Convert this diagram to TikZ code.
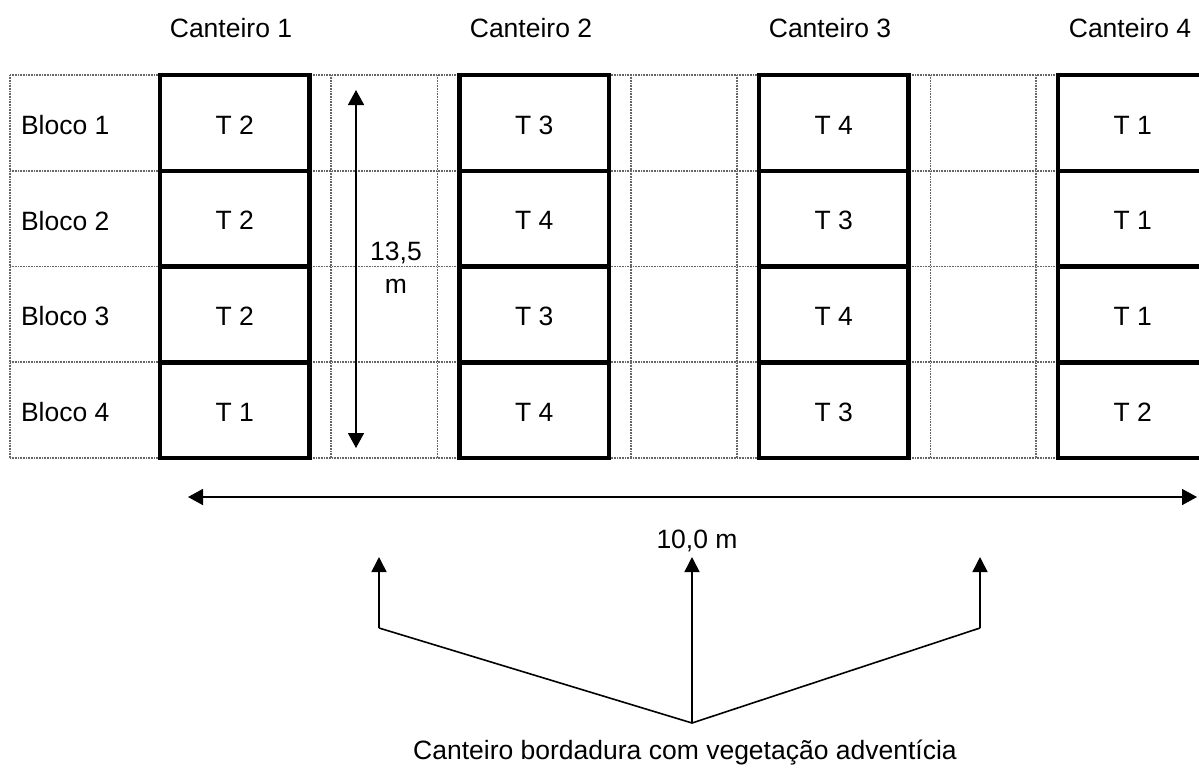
\documentclass[tikz,border=0pt]{standalone}
\usepackage{fontspec}
\setmainfont{Liberation Sans}
\usetikzlibrary{arrows.meta}
\begin{document}
\begin{tikzpicture}[x=1pt,y=-1pt,
  every node/.style={font=\fontsize{26.5}{32}\selectfont, inner sep=0pt, outer sep=0pt},
  plot/.style={draw=black, line width=4.5pt, minimum width=149.5pt, minimum height=95.75pt},
  guide/.style={draw=black!60, line width=1.6pt, dash pattern=on 1pt off 0.6pt},
  dim/.style={draw=black, line width=1.6pt, {Triangle[width=16pt,length=15pt]}-{Triangle[width=16pt,length=15pt]}},
  pointer/.style={draw=black, line width=1.6pt, -{Triangle[width=15pt,length=15pt]}},
  lead/.style={draw=black, line width=1.6pt, line join=miter},
]
\useasboundingbox (0,0) rectangle (1199,769);
\clip (0,0) rectangle (1199,769);

% thin guide lines: block column and the border strips between plots
\foreach \y in {75,170.75,266.5,362.25,458} {
  \draw[guide] (10,\y) -- (160,\y);
  \draw[guide] (309.5,\y) -- (459.5,\y);
  \draw[guide] (609,\y) -- (759,\y);
  \draw[guide] (908.5,\y) -- (1058,\y);
}
\foreach \x in {10,331,437.5,631,737,930.5,1036}
  \draw[guide] (\x,75) -- (\x,458);

% column headings
\node[anchor=base] (h1) at (231,37) {Canteiro 1};
\node[anchor=base] (h2) at (531,37) {Canteiro 2};
\node[anchor=base] (h3) at (830,37) {Canteiro 3};
\node[anchor=base] (h4) at (1130,37) {Canteiro 4};

% block labels
\foreach \r/\y in {1/124.9,2/220.6,3/316.4,4/412.1}
  \node[anchor=west] (b\r) at (21,\y) {Bloco \r};

% treatment plots
\foreach \c/\x/\la/\lb/\lc/\ld in {
    1/234.75/T 2/T 2/T 2/T 1,
    2/534.25/T 3/T 4/T 3/T 4,
    3/833.75/T 4/T 3/T 4/T 3,
    4/1132.75/T 1/T 1/T 1/T 2} {
  \node[plot] (p\c1) at (\x,122.875) {};
  \node[plot] (p\c2) at (\x,218.625) {};
  \node[plot] (p\c3) at (\x,314.375) {};
  \node[plot] (p\c4) at (\x,410.125) {};
  \node (t\c1) at (\x,124.9) {\la};
  \node (t\c2) at (\x,220.6) {\lb};
  \node (t\c3) at (\x,316.4) {\lc};
  \node (t\c4) at (\x,412.1) {\ld};
}

% length of the plots
\coordinate (vtop) at (356,90);
\coordinate (vbot) at (356,448);
\draw[dim] (vtop) -- (vbot);
\node[align=center, font=\fontsize{26.5}{33}\selectfont] (vlen) at (396,268) {13,5\\m};

% width of the field
\coordinate (hl) at (188,497);
\coordinate (hr) at (1197,497);
\draw[dim] (hl) -- (hr);
\node[anchor=base] (hlen) at (697,548) {10,0 m};

% pointers to the border strips
\node[anchor=base] (border) at (685,759) {Canteiro bordadura com vegetação adventícia};
\coordinate (meet) at (692,723);
\coordinate (cl) at (379,628);
\coordinate (cr) at (980,628);
\coordinate (al) at (379,557);
\coordinate (am) at (692,557);
\coordinate (ar) at (980,557);
\draw[lead] (cl) -- (meet) -- (cr);
\draw[pointer] (cl) -- (al);
\draw[pointer] (meet) -- (am);
\draw[pointer] (cr) -- (ar);
\end{tikzpicture}
\end{document}
